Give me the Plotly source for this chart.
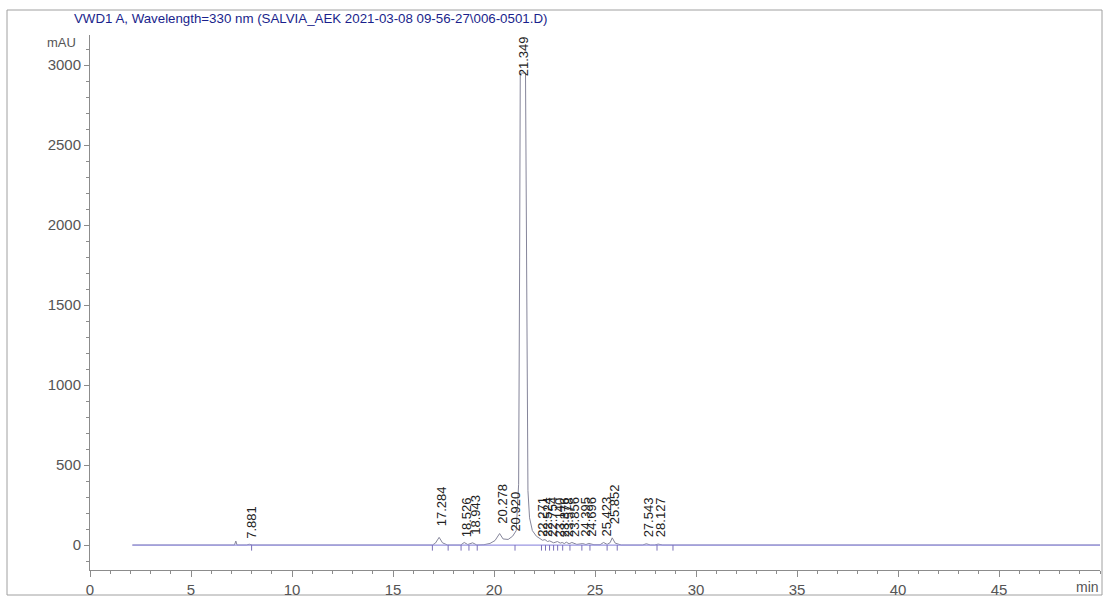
import plotly.graph_objects as go

# Detector trace vertices: retention time (min) and absorbance (mAU)
sig_t = [2.10, 7.15, 7.22, 7.28, 7.75, 7.88, 8.05,
         16.95, 17.10, 17.284, 17.45, 17.70,
         18.35, 18.526, 18.70, 18.943, 19.15,
         19.50, 19.80, 20.05, 20.278, 20.45, 20.70, 20.920, 21.10,
         21.22, 21.27, 21.30, 21.56, 21.60, 21.68, 21.76, 21.90,
         22.10, 22.271, 22.40, 22.524, 22.65, 22.754, 22.95, 23.140,
         23.28, 23.376, 23.48, 23.578, 23.72, 23.856, 24.10, 24.395,
         24.55, 24.696, 24.95, 25.25, 25.423, 25.60, 25.75, 25.852,
         26.00, 26.30, 27.35, 27.543, 27.75, 27.95, 28.127, 28.35, 50.0]
sig_y = [0, 0, 25, 0, 0, 5, 0,
         0, 12, 48, 14, 0,
         0, 16, 3, 14, 0,
         2, 10, 28, 72, 38, 35, 55, 90,
         380, 1800, 2950, 2950, 1800, 340, 170, 90,
         55, 42, 30, 34, 22, 26, 14, 22,
         12, 16, 9, 18, 8, 16, 4, 9,
         3, 10, 2, 2, 16, 4, 15, 45,
         12, 0, 0, 8, 0, 0, 6, 0, 0]

# Integrated peaks: retention time label and height of the label foot (mAU)
peak_rt = ["7.881", "17.284", "18.526", "18.943", "20.278", "20.920", "21.349",
           "22.271", "22.524", "22.754", "23.140", "23.376", "23.578", "23.856",
           "24.395", "24.696", "25.423", "25.852", "27.543", "28.127"]
label_y = [31, 112, 44, 56, 125, 75, 2925,
           44, 44, 44, 44, 44, 44, 44,
           44, 44, 44, 125, 44, 44]

# Peak start/end markers (min)
mark_t = [8.0, 16.95, 17.73, 18.37, 18.76, 19.17, 21.04, 22.35, 22.55, 22.75,
          22.95, 23.15, 23.4, 23.76, 24.35, 24.75, 25.6, 26.1, 28.07, 28.86]

x_ticks = [0, 5, 10, 15, 20, 25, 30, 35, 40, 45]
y_ticks = [0, 500, 1000, 1500, 2000, 2500, 3000]

W, H = 1113, 599
L, R, T, B = 90, 13, 35, 29
PW, PH = W - L - R, H - T - B


def px(xp):
    return (xp - L) / PW


def py(yp):
    return 1 - (yp - T) / PH


FONT = "Liberation Sans, Arial, sans-serif"
AXIS = "#8c8c8c"

fig = go.Figure()

fig.add_trace(go.Scatter(x=sig_t, y=sig_y, mode="lines",
                         line=dict(color="#85859a", width=1), hoverinfo="skip"))
fig.add_trace(go.Scatter(x=[sig_t[0], sig_t[-1]], y=[0, 0], mode="lines",
                         line=dict(color="#9a96e2", width=1.3), hoverinfo="skip"))

mx, my = [], []
for t in mark_t:
    mx += [t, t, None]
    my += [0, -35, None]
fig.add_trace(go.Scatter(x=mx, y=my, mode="lines",
                         line=dict(color="#7a70b8", width=1), hoverinfo="skip"))

for rt, yv in zip(peak_rt, label_y):
    fig.add_annotation(x=float(rt), y=yv, text=rt, textangle=-90, showarrow=False,
                       xanchor="center", yanchor="bottom", xshift=2, yshift=0,
                       borderpad=0, font=dict(family=FONT, size=13, color="#222222"))

fig.add_annotation(x=px(78), y=py(43), xref="paper", yref="paper", text="mAU",
                   showarrow=False, xanchor="right", yanchor="middle",
                   font=dict(family=FONT, size=13, color="#555555"))
fig.add_annotation(x=px(1101), y=py(587), xref="paper", yref="paper", text="min",
                   showarrow=False, xanchor="right", yanchor="middle",
                   font=dict(family=FONT, size=14, color="#555555"))
fig.add_annotation(x=px(72), y=py(18), xref="paper", yref="paper",
                   text="VWD1 A, Wavelength=330 nm (SALVIA_AEK 2021-03-08 09-56-27\\006-0501.D)",
                   showarrow=False, xanchor="left", yanchor="middle",
                   font=dict(family=FONT, size=13.3, color="#1a1f8c"))

fig.add_shape(type="rect", xref="paper", yref="paper",
              x0=px(7), x1=px(1102), y0=py(595), y1=py(10),
              line=dict(color="#a0a0a0", width=1), layer="below")

fig.update_layout(
    width=W, height=H,
    margin=dict(l=L, r=R, t=T, b=B, autoexpand=False),
    paper_bgcolor="white", plot_bgcolor="white",
    showlegend=False,
    font=dict(family=FONT, size=14, color="#555555"),
)
fig.update_xaxes(range=[0, 50], tickvals=x_ticks, ticks="outside", ticklen=6,
                 tickcolor=AXIS, showline=True, linecolor=AXIS, linewidth=1,
                 showgrid=False, zeroline=False, automargin=False,
                 tickfont=dict(family=FONT, size=15, color="#555555"),
                 minor=dict(dtick=1, tick0=0, ticks="outside", ticklen=3, tickcolor=AXIS))
fig.update_yaxes(range=[-156, 3188], tickvals=y_ticks, ticks="outside", ticklen=5,
                 tickcolor=AXIS, showline=True, linecolor=AXIS, linewidth=1,
                 showgrid=False, zeroline=False, automargin=False,
                 tickfont=dict(family=FONT, size=15, color="#555555"),
                 minor=dict(dtick=100, tick0=0, ticks="outside", ticklen=3, tickcolor=AXIS))

fig.write_html("out.html")
